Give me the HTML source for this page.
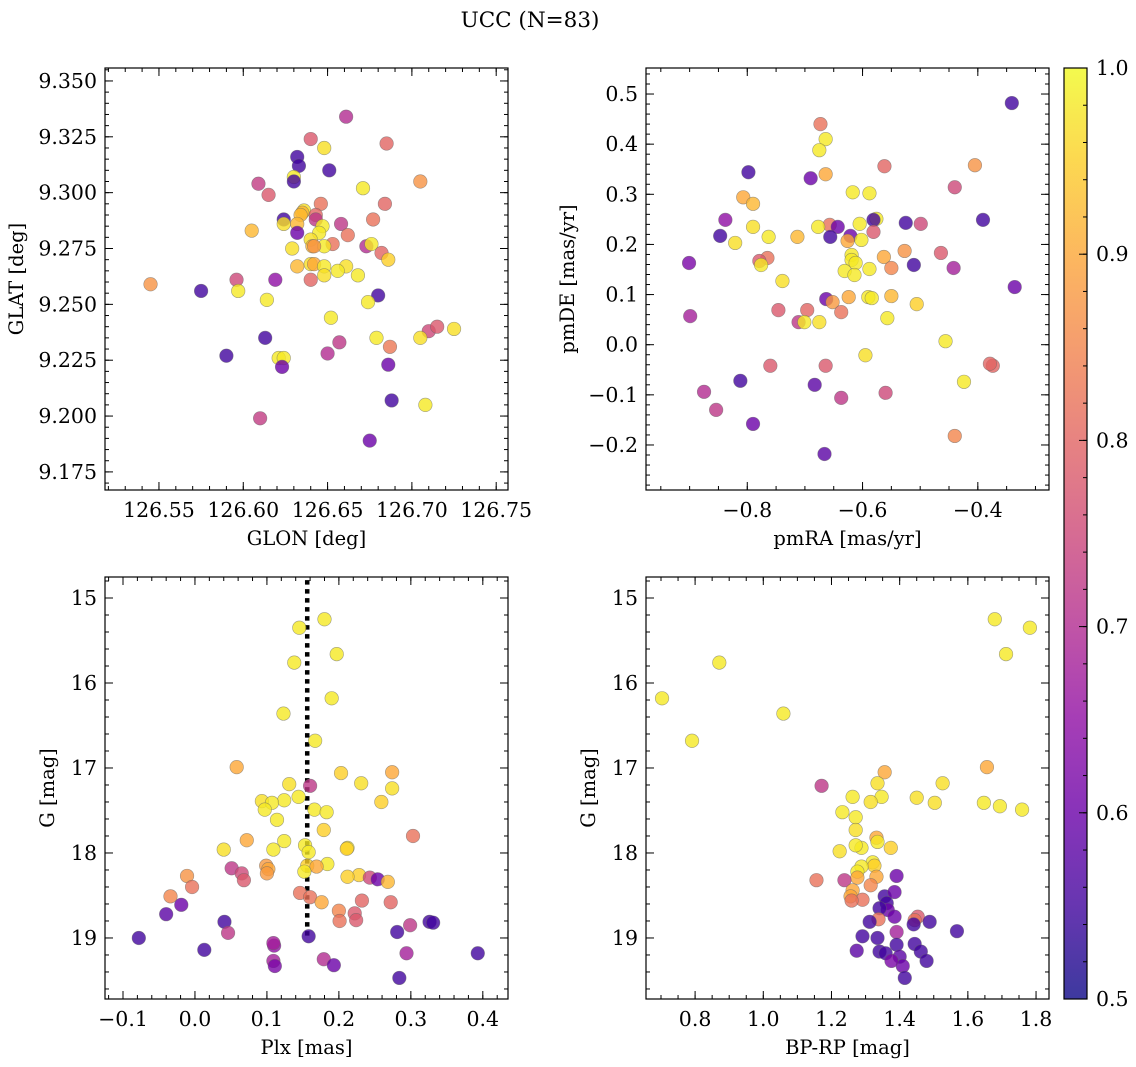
<!DOCTYPE html>
<html><head><meta charset="utf-8"><title>UCC (N=83)</title>
<style>
html,body{margin:0;padding:0;background:#fff;}
svg{display:block;font-family:"DejaVu Serif","Liberation Serif",serif;}
</style></head>
<body>
<svg id="fig" width="1136" height="1067" viewBox="0 0 1136 1067" xmlns="http://www.w3.org/2000/svg">
<rect width="1136" height="1067" fill="#fff"/>
<text x="530" y="27" font-size="21.5" text-anchor="middle">UCC (N=83)</text>
</svg>
<script>
// ---- Panel 1: GLON / GLAT ----
const glon = [126.661,126.640,126.685,126.648,126.632,126.633,126.651,126.630,126.630,126.705,126.609,126.671,126.615,126.646,126.684,126.636,126.635,126.634,126.643,126.624,126.643,126.677,126.624,126.632,126.647,126.658,126.605,126.645,126.632,126.662,126.640,126.653,126.641,126.673,126.648,126.676,126.629,126.642,126.682,126.686,126.640,126.661,126.642,126.632,126.648,126.640,126.648,126.619,126.656,126.668,126.545,126.575,126.596,126.597,126.680,126.614,126.674,126.652,126.710,126.715,126.725,126.657,126.650,126.613,126.679,126.687,126.705,126.590,126.621,126.624,126.623,126.686,126.688,126.708,126.610,126.675];
const glat = [9.334,9.324,9.322,9.320,9.316,9.312,9.310,9.307,9.305,9.305,9.304,9.302,9.299,9.295,9.295,9.292,9.291,9.290,9.290,9.288,9.288,9.288,9.286,9.286,9.285,9.286,9.283,9.282,9.282,9.281,9.279,9.277,9.276,9.276,9.276,9.277,9.275,9.276,9.273,9.270,9.268,9.267,9.268,9.267,9.267,9.261,9.263,9.261,9.265,9.263,9.259,9.256,9.261,9.256,9.254,9.252,9.251,9.244,9.238,9.240,9.239,9.233,9.228,9.235,9.235,9.231,9.235,9.227,9.226,9.226,9.222,9.223,9.207,9.205,9.199,9.189];
const prob1 = [0.70,0.78,0.80,0.97,0.55,0.55,0.55,0.98,0.55,0.87,0.73,0.98,0.78,0.82,0.80,0.97,0.92,0.92,0.80,0.55,0.72,0.82,0.97,0.92,0.98,0.72,0.92,0.98,0.60,0.82,0.97,0.82,0.92,0.70,0.98,0.98,0.97,0.87,0.80,0.95,0.97,0.97,0.90,0.92,0.98,0.80,0.97,0.65,0.98,0.98,0.87,0.55,0.75,0.98,0.55,0.98,0.98,0.98,0.75,0.78,0.97,0.72,0.70,0.55,0.98,0.83,0.97,0.55,0.98,0.98,0.60,0.60,0.55,0.98,0.73,0.60];
// ---- Panel 2: pmRA / pmDE ----
const pmra = [-0.341,-0.673,-0.664,-0.675,-0.405,-0.562,-0.798,-0.664,-0.690,-0.440,-0.617,-0.588,-0.807,-0.790,-0.576,-0.581,-0.391,-0.838,-0.525,-0.499,-0.605,-0.657,-0.677,-0.643,-0.790,-0.581,-0.713,-0.621,-0.763,-0.656,-0.847,-0.626,-0.602,-0.821,-0.527,-0.464,-0.619,-0.765,-0.563,-0.619,-0.779,-0.612,-0.776,-0.511,-0.901,-0.442,-0.588,-0.550,-0.631,-0.614,-0.739,-0.336,-0.590,-0.624,-0.584,-0.550,-0.663,-0.652,-0.506,-0.696,-0.637,-0.746,-0.899,-0.557,-0.675,-0.711,-0.701,-0.456,-0.595,-0.664,-0.760,-0.374,-0.379,-0.424,-0.812,-0.683,-0.875,-0.560,-0.637,-0.854,-0.440,-0.790,-0.666];
const pmde = [0.482,0.440,0.410,0.388,0.358,0.356,0.344,0.340,0.332,0.314,0.304,0.302,0.294,0.281,0.251,0.249,0.249,0.249,0.243,0.241,0.241,0.239,0.235,0.235,0.235,0.225,0.215,0.217,0.215,0.215,0.217,0.207,0.209,0.203,0.187,0.183,0.179,0.173,0.175,0.169,0.167,0.163,0.159,0.159,0.163,0.153,0.151,0.153,0.147,0.139,0.127,0.115,0.095,0.095,0.093,0.097,0.091,0.085,0.081,0.069,0.065,0.069,0.057,0.053,0.045,0.045,0.045,0.007,-0.021,-0.042,-0.042,-0.042,-0.038,-0.074,-0.072,-0.080,-0.094,-0.096,-0.106,-0.130,-0.182,-0.158,-0.218];
const prob2 = [0.55,0.82,0.98,0.98,0.87,0.80,0.55,0.90,0.60,0.75,0.98,0.98,0.90,0.92,0.98,0.55,0.55,0.65,0.55,0.75,0.98,0.82,0.98,0.60,0.97,0.78,0.92,0.60,0.98,0.55,0.55,0.90,0.98,0.97,0.87,0.78,0.98,0.82,0.90,0.98,0.78,0.98,0.98,0.55,0.62,0.68,0.98,0.85,0.98,0.98,0.97,0.60,0.98,0.90,0.98,0.92,0.60,0.88,0.95,0.80,0.82,0.78,0.68,0.98,0.97,0.72,0.98,0.98,0.97,0.78,0.78,0.80,0.80,0.98,0.55,0.58,0.70,0.75,0.72,0.72,0.85,0.60,0.58];
// ---- Panel 3: Plx / G ----
const plx = [0.180,0.145,0.197,0.138,0.190,0.123,0.167,0.058,0.274,0.203,0.231,0.131,0.160,0.274,0.144,0.124,0.093,0.259,0.107,0.097,0.166,0.183,0.114,0.179,0.303,0.072,0.124,0.153,0.212,0.040,0.109,0.211,0.158,0.156,0.099,0.184,0.169,0.051,0.102,0.065,0.152,0.228,0.100,0.212,-0.011,0.243,0.254,0.268,0.068,-0.004,-0.034,0.146,0.160,0.176,0.232,0.272,-0.019,-0.040,0.200,0.222,0.224,0.201,0.041,0.326,0.331,0.299,0.281,0.046,0.158,-0.078,0.110,0.109,0.013,0.393,0.294,0.179,0.109,0.111,0.193,0.284];
const gmag3 = [15.25,15.35,15.66,15.76,16.18,16.36,16.68,16.99,17.05,17.06,17.18,17.19,17.21,17.24,17.34,17.38,17.39,17.40,17.41,17.49,17.49,17.52,17.61,17.73,17.80,17.85,17.86,17.91,17.94,17.96,17.96,17.95,17.99,18.15,18.15,18.13,18.16,18.18,18.19,18.24,18.22,18.26,18.24,18.28,18.27,18.29,18.31,18.34,18.32,18.40,18.51,18.47,18.52,18.58,18.56,18.58,18.61,18.72,18.68,18.71,18.79,18.80,18.81,18.81,18.82,18.85,18.93,18.94,18.98,19.00,19.09,19.06,19.14,19.18,19.18,19.25,19.27,19.33,19.32,19.47];
const prob3 = [0.98,0.98,0.98,0.98,0.98,0.98,0.98,0.90,0.90,0.95,0.97,0.97,0.72,0.97,0.98,0.98,0.97,0.95,0.98,0.98,0.98,0.98,0.98,0.95,0.82,0.90,0.98,0.98,0.98,0.97,0.98,0.95,0.98,0.95,0.88,0.98,0.90,0.72,0.90,0.75,0.98,0.95,0.88,0.95,0.87,0.75,0.60,0.92,0.78,0.82,0.85,0.82,0.82,0.90,0.80,0.80,0.60,0.58,0.85,0.78,0.78,0.82,0.55,0.55,0.55,0.72,0.55,0.72,0.55,0.55,0.65,0.68,0.55,0.55,0.68,0.70,0.68,0.62,0.60,0.55];
const plxRef = 0.156;
// ---- Panel 4: BP-RP / G ----
const bprp = [1.679,1.782,1.712,0.871,0.703,1.059,0.791,1.656,1.356,1.171,1.335,1.526,1.262,1.347,1.450,1.647,1.694,1.759,1.503,1.315,1.232,1.271,1.271,1.332,1.335,1.374,1.224,1.288,1.271,1.321,1.326,1.288,1.276,1.276,1.332,1.315,1.156,1.238,1.262,1.391,1.256,1.291,1.259,1.356,1.385,1.362,1.365,1.341,1.385,1.338,1.453,1.444,1.488,1.312,1.441,1.568,1.391,1.291,1.335,1.391,1.444,1.341,1.359,1.400,1.462,1.479,1.409,1.415,1.376,1.274];
const gmag4 = [15.25,15.35,15.66,15.76,16.18,16.36,16.68,16.99,17.05,17.21,17.18,17.18,17.34,17.34,17.35,17.41,17.45,17.49,17.41,17.40,17.52,17.58,17.73,17.82,17.87,17.94,17.98,17.94,17.91,18.11,18.15,18.16,18.22,18.29,18.28,18.38,18.32,18.32,18.44,18.27,18.51,18.55,18.56,18.51,18.46,18.59,18.67,18.65,18.75,18.78,18.75,18.79,18.81,18.81,18.84,18.92,18.93,18.98,19.00,19.08,19.07,19.16,19.18,19.22,19.16,19.27,19.33,19.47,19.27,19.15];
const prob4 = [0.98,0.98,0.98,0.98,0.98,0.98,0.98,0.90,0.90,0.72,0.97,0.97,0.98,0.98,0.97,0.98,0.98,0.98,0.97,0.97,0.98,0.98,0.97,0.90,0.98,0.95,0.97,0.98,0.98,0.98,0.95,0.98,0.98,0.90,0.90,0.85,0.82,0.72,0.90,0.60,0.90,0.82,0.82,0.55,0.60,0.55,0.60,0.55,0.60,0.82,0.78,0.82,0.55,0.55,0.55,0.55,0.68,0.55,0.55,0.55,0.55,0.55,0.55,0.58,0.55,0.55,0.60,0.55,0.62,0.58];
// colorbar ticks
const cbarTicks = ["0.5","0.6","0.7","0.8","0.9","1.0"];

const NS = "http://www.w3.org/2000/svg";
const svg = document.getElementById('fig');
const TICK_FS = 20.5, LABEL_FS = 19.5;
function el(tag, attrs, parent){const e=document.createElementNS(NS,tag);for(const k in attrs)e.setAttribute(k,attrs[k]);(parent||svg).appendChild(e);return e;}
const stops=[[0,[13,8,135]],[0.1,[65,4,157]],[0.2,[106,0,168]],[0.3,[143,13,164]],[0.4,[177,42,144]],[0.5,[204,71,120]],[0.6,[225,100,98]],[0.7,[242,132,75]],[0.8,[252,166,54]],[0.9,[252,206,37]],[1,[240,249,33]]];
function plasma(t){t=Math.max(0,Math.min(1,t));for(let i=1;i<stops.length;i++){if(t<=stops[i][0]){const a=stops[i-1],b=stops[i];const f=(t-a[0])/(b[0]-a[0]);const c=a[1].map((v,j)=>Math.round(v+(b[1][j]-v)*f));return `rgb(${c[0]},${c[1]},${c[2]})`;}}return 'rgb(240,249,33)';}
const vmin=0.5,vmax=1.0;
function ticksFor(min,max,step){const r=[];for(let i=Math.ceil(min/step-1e-9);i<=Math.floor(max/step+1e-9);i++)r.push(i*step);return r;}
function fmt(v,d){const s=Math.abs(v).toFixed(d);return (v< -1e-9?'\u2212':'')+s;}

function panel(o){
  const g=el('g',{});
  
  
  const X=v=>o.box[0]+(v-o.x[0])/(o.x[1]-o.x[0])*(o.box[2]-o.box[0]);
  const Y=o.invert? (v=>o.box[1]+(v-o.y[0])/(o.y[1]-o.y[0])*(o.box[3]-o.box[1])) : (v=>o.box[3]-(v-o.y[0])/(o.y[1]-o.y[0])*(o.box[3]-o.box[1]));
  const [L,T,R,B]=o.box;
  const tk=el('g',{stroke:'#000','stroke-width':1},g);
  
  
  ticksFor(o.x[0],o.x[1],o.xmin).forEach(v=>{const x=X(v);el('line',{x1:x,y1:B,x2:x,y2:B-4},tk);el('line',{x1:x,y1:T,x2:x,y2:T+4},tk);});
  ticksFor(o.y[0],o.y[1],o.ymin).forEach(v=>{const y=Y(v);el('line',{x1:L,y1:y,x2:L+4,y2:y},tk);el('line',{x1:R,y1:y,x2:R-4,y2:y},tk);});
  ticksFor(o.x[0],o.x[1],o.xmaj).forEach(v=>{const x=X(v);el('line',{x1:x,y1:B,x2:x,y2:B-8},tk);el('line',{x1:x,y1:T,x2:x,y2:T+8},tk);
    const t=el('text',{x:x,y:B+27,'font-size':TICK_FS,'text-anchor':'middle'},g);t.textContent=fmt(v,o.xd);
    
    });
  ticksFor(o.y[0],o.y[1],o.ymaj).forEach(v=>{const y=Y(v);el('line',{x1:L,y1:y,x2:L+8,y2:y},tk);el('line',{x1:R,y1:y,x2:R-8,y2:y},tk);
    const t=el('text',{x:L-8,y:y+7,'font-size':TICK_FS,'text-anchor':'end'},g);t.textContent=fmt(v,o.yd);
    
    });
  if(o.vline!==undefined){const l=el('line',{x1:X(o.vline),x2:X(o.vline),y1:Y(o.vy[0]),y2:Y(o.vy[1]),stroke:'#000','stroke-width':4.5,'stroke-dasharray':'4.5 4.5'},g);
    
    }
  const pts=el('g',{},g);
  
  
  o.xs.forEach((xv,i)=>{const c=el('circle',{cx:X(xv),cy:Y(o.ys[i]),r:6.8,fill:plasma((o.c[i]-vmin)/(vmax-vmin)),'fill-opacity':0.8,stroke:'#666','stroke-opacity':0.6,'stroke-width':0.6},pts);
    
    });
  el('rect',{x:L,y:T,width:R-L,height:B-T,fill:'none',stroke:'#000','stroke-width':1.2},g);
  const xl=el('text',{x:(L+R)/2,y:B+55,'font-size':LABEL_FS,'text-anchor':'middle'},g);xl.textContent=o.xl;
  
  
  const yl=el('text',{x:0,y:0,'font-size':LABEL_FS,'text-anchor':'middle',transform:`translate(${o.ylx},${(T+B)/2}) rotate(-90)`},g);yl.textContent=o.yl;
  
  
}
panel({name:'glon-glat-panel',box:[105,68,508,490],x:[126.518,126.757],y:[9.1669,9.3558],xmaj:0.05,xmin:0.01,ymaj:0.025,ymin:0.005,xd:2,yd:3,xs:glon,ys:glat,c:prob1,xl:'GLON [deg]',yl:'GLAT [deg]',ylx:23});
panel({name:'pm-panel',box:[646,68,1049,490],x:[-0.9757,-0.2765],y:[-0.2898,0.5519],xmaj:0.2,xmin:0.05,ymaj:0.1,ymin:0.02,xd:1,yd:1,xs:pmra,ys:pmde,c:prob2,xl:'pmRA [mas/yr]',yl:'pmDE [mas/yr]',ylx:574});
panel({name:'plx-g-panel',box:[105,577,508,999],x:[-0.125,0.435],y:[14.753,19.718],invert:true,xmaj:0.1,xmin:0.02,ymaj:1,ymin:0.2,xd:1,yd:0,xs:plx,ys:gmag3,c:prob3,xl:'Plx [mas]',yl:'G [mag]',ylx:54,vline:plxRef,vy:[14.79,19.02]});
panel({name:'cmd-panel',box:[646,577,1049,999],x:[0.656,1.838],y:[14.753,19.718],invert:true,xmaj:0.2,xmin:0.05,ymaj:1,ymin:0.2,xd:1,yd:0,xs:bprp,ys:gmag4,c:prob4,xl:'BP-RP [mag]',yl:'G [mag]',ylx:595});

// colorbar
(function(){
  const L=1064,R=1087,T=68,B=999;
  const g=el('g',{});
  
  
  const defs=el('defs',{},g);
  const lg=el('linearGradient',{id:'cb',x1:0,y1:1,x2:0,y2:0},defs);
  for(let i=0;i<=20;i++){el('stop',{offset:i/20,'stop-color':plasma(i/20),'stop-opacity':0.8},lg);}
  el('rect',{x:L,y:T,width:R-L,height:B-T,fill:'url(#cb)'},g);
  const Y=v=>B-(v-vmin)/(vmax-vmin)*(B-T);
  ticksFor(0.5,1.0,0.02).forEach(v=>el('line',{x1:R,x2:R-4,y1:Y(v),y2:Y(v),stroke:'#000'},g));
  cbarTicks.forEach(s=>{const v=parseFloat(s);el('line',{x1:R,x2:R-8,y1:Y(v),y2:Y(v),stroke:'#000'},g);
    const t=el('text',{x:R+9,y:Y(v)+7,'font-size':TICK_FS},g);t.textContent=s;
    
    });
  el('rect',{x:L,y:T,width:R-L,height:B-T,fill:'none',stroke:'#000','stroke-width':1.2},g);
})();
</script>
</body></html>
